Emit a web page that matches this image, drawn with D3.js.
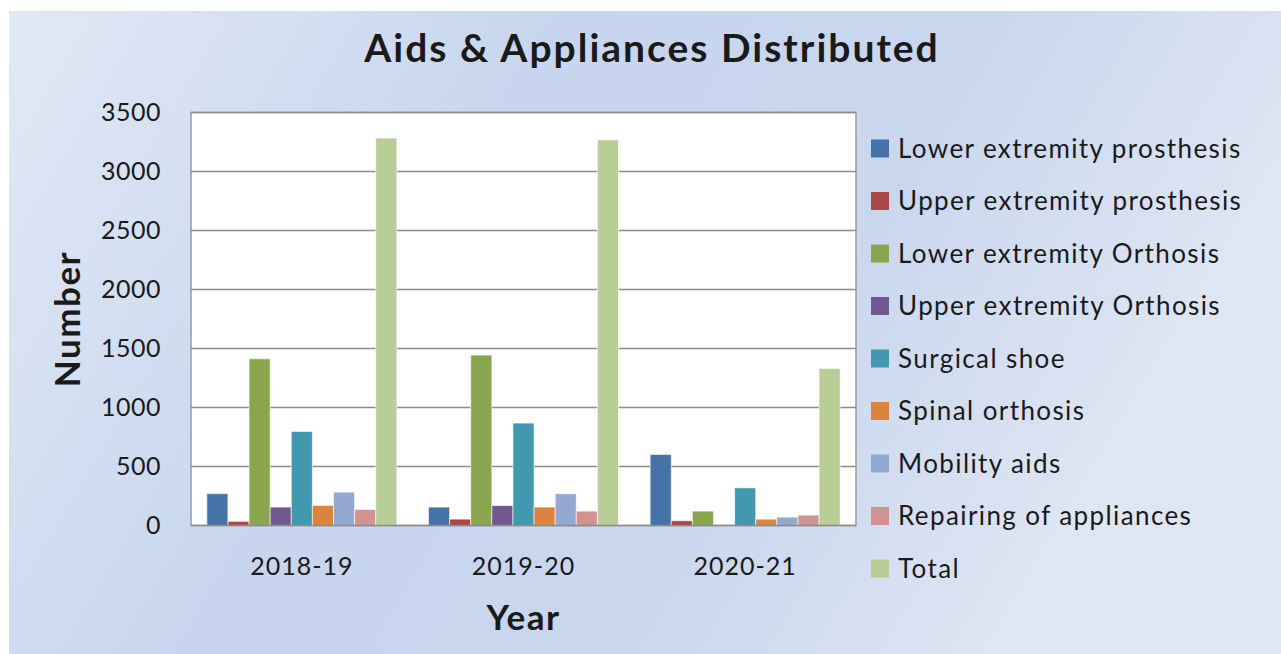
<!DOCTYPE html>
<html>
<head>
<meta charset="utf-8">
<script src="https://cdn.jsdelivr.net/npm/d3@7"></script>
<style>
  html, body { margin: 0; padding: 0; background: #ffffff; }
  svg { display: block; }
  text { font-family: Lato, "Open Sans", sans-serif; fill: #1a1a1a; }
</style>
</head>
<body>
<svg id="chart" width="1281" height="654"></svg>
<script>
const categories = ["2018-19", "2019-20", "2020-21"];
const seriesNames = [
  "Lower extremity prosthesis",
  "Upper extremity prosthesis",
  "Lower extremity Orthosis",
  "Upper extremity Orthosis",
  "Surgical shoe",
  "Spinal orthosis",
  "Mobility aids",
  "Repairing of appliances",
  "Total"
];
const lowerExtremityProsthesis = [270, 156, 602];
const upperExtremityProsthesis = [35, 54, 40];
const lowerExtremityOrthosis   = [1413, 1444, 122];
const upperExtremityOrthosis   = [156, 169, 0];
const surgicalShoe             = [797, 868, 319];
const spinalOrthosis           = [170, 156, 54];
const mobilityAids             = [283, 269, 71];
const repairingOfAppliances    = [136, 122, 88];
const total                    = [3283, 3268, 1331];
const seriesValues = [
  lowerExtremityProsthesis, upperExtremityProsthesis, lowerExtremityOrthosis,
  upperExtremityOrthosis, surgicalShoe, spinalOrthosis, mobilityAids,
  repairingOfAppliances, total
];
const seriesColors = ["#4572A7", "#AA4643", "#89A54E", "#71588F", "#4198AF",
                      "#DB843D", "#93A9CF", "#D19392", "#B9CD96"];
const yTicks = [0, 500, 1000, 1500, 2000, 2500, 3000, 3500];

const svg = d3.select("#chart");

// background gradient
const defs = svg.append("defs");
const grad = defs.append("linearGradient").attr("id", "bg")
  .attr("x1", "0%").attr("y1", "0%").attr("x2", "100%").attr("y2", "30%");
grad.append("stop").attr("offset", "0%").attr("stop-color", "#e1e8f5");
grad.append("stop").attr("offset", "40%").attr("stop-color", "#c7d6ee");
grad.append("stop").attr("offset", "70%").attr("stop-color", "#c8d6ee");
grad.append("stop").attr("offset", "100%").attr("stop-color", "#dfe6f3");
svg.append("rect").attr("x", 9).attr("y", 11).attr("width", 1272).attr("height", 643)
  .attr("fill", "url(#bg)");

const plot = { left: 191, right: 856, top: 112.5, bottom: 525.5 };

const x0 = d3.scaleBand().domain(categories)
  .range([plot.left, plot.right])
  .paddingInner(1.5 / 10.5).paddingOuter(0.75 / 10.5);
const x1 = d3.scaleBand().domain(d3.range(seriesNames.length))
  .range([0, x0.bandwidth()]).padding(0);
const y = d3.scaleLinear().domain([0, 3500]).range([plot.bottom, plot.top]);

// plot area
svg.append("rect").attr("x", plot.left).attr("y", plot.top)
  .attr("width", plot.right - plot.left).attr("height", plot.bottom - plot.top)
  .attr("fill", "#ffffff").attr("stroke", "#9a9a9a").attr("stroke-width", 1.5);

// gridlines
svg.append("g").selectAll("line").data(yTicks.filter(d => d > 0)).join("line")
  .attr("x1", plot.left).attr("x2", plot.right)
  .attr("y1", d => y(d)).attr("y2", d => y(d))
  .attr("stroke", "#8c8c8c").attr("stroke-width", 1.5);

// bars
const groups = svg.append("g").selectAll("g").data(categories).join("g")
  .attr("transform", c => `translate(${x0(c)},0)`);
groups.selectAll("rect")
  .data((c, ci) => seriesValues.map((vals, si) => ({ si, v: vals[ci] })))
  .join("rect")
  .attr("x", d => x1(d.si))
  .attr("width", x1.bandwidth())
  .attr("y", d => y(d.v))
  .attr("height", d => y(0) - y(d.v))
  .attr("fill", d => seriesColors[d.si])
  .attr("stroke", d => d.v > 0 ? "rgba(255,255,255,0.6)" : "none")
  .attr("stroke-width", 1);

// baseline
svg.append("line").attr("x1", plot.left).attr("x2", plot.right)
  .attr("y1", y(0)).attr("y2", y(0)).attr("stroke", "#8c8c8c").attr("stroke-width", 1.5);

// y axis labels
const yAxis = d3.axisLeft(y).tickValues(yTicks).tickFormat(d3.format("d")).tickSize(0).tickPadding(0);
const yg = svg.append("g").attr("transform", `translate(${plot.left - 30},0)`).call(yAxis);
yg.select(".domain").remove();
yg.selectAll("text").style("font-family", "Lato, sans-serif").style("font-size", "25px")
  .style("letter-spacing", "0.5px").attr("fill", "#1a1a1a");

// x axis labels
const xAxis = d3.axisBottom(x0).tickSize(0).tickPadding(0);
const xg = svg.append("g").attr("transform", `translate(0,${plot.bottom + 32})`).call(xAxis);
xg.select(".domain").remove();
xg.selectAll("text").style("font-family", "Lato, sans-serif").style("font-size", "25px")
  .style("letter-spacing", "1px").attr("fill", "#1a1a1a");

// title
svg.append("text").attr("x", 652).attr("y", 62).attr("text-anchor", "middle")
  .style("font-size", "39px").style("font-weight", "bold").style("letter-spacing", "2px")
  .text("Aids & Appliances Distributed");

// axis titles
svg.append("text").attr("x", (plot.left + plot.right) / 2).attr("y", 630)
  .attr("text-anchor", "middle").style("font-size", "35px").style("font-weight", "bold")
  .style("letter-spacing", "1.5px").text("Year");
svg.append("text").attr("transform", `translate(80,${(plot.top + plot.bottom) / 2}) rotate(-90)`)
  .attr("text-anchor", "middle").style("font-size", "35px").style("font-weight", "bold")
  .style("letter-spacing", "1.5px").text("Number");

// legend
const legend = svg.append("g").selectAll("g").data(seriesNames).join("g")
  .attr("transform", (d, i) => `translate(871,${148.5 + i * 52.5})`);
legend.append("rect").attr("x", 0).attr("y", -9).attr("width", 18).attr("height", 18)
  .attr("fill", (d, i) => seriesColors[i]);
legend.append("text").attr("x", 27).attr("y", 0).attr("dy", "0.35em")
  .style("font-size", "26px").style("letter-spacing", "1.4px").text(d => d);
</script>
</body>
</html>
